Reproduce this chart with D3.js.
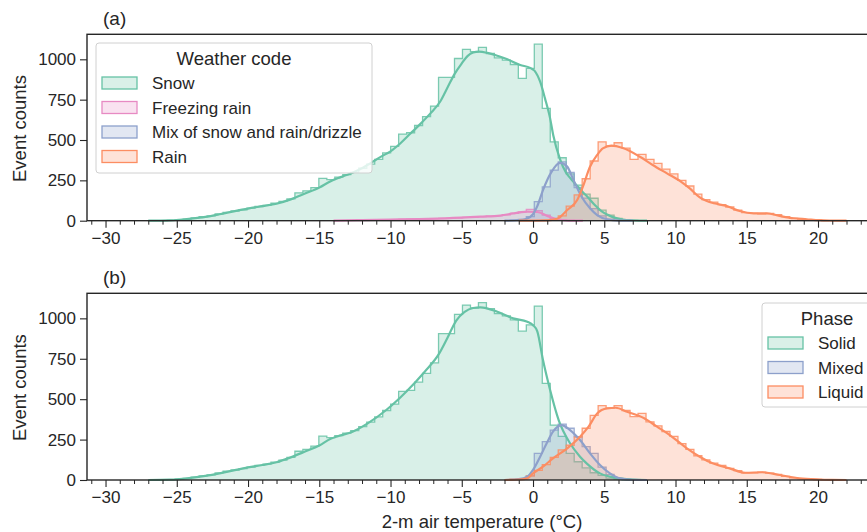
<!DOCTYPE html>
<html>
<head>
<meta charset="utf-8">
<script src="https://cdn.jsdelivr.net/npm/d3@7"></script>
<style>
    body { margin: 0; background: #fff; }
    svg text { font-family: "Liberation Sans", Arial, sans-serif; fill: #262626; }
</style>
</head>
<body>
<svg id="chart" width="867" height="532"></svg>
<script>
/* ======================== DATA ========================= */
/* ======================================================= */

// shared histogram bins (degC); a series starts at binOrigin + startBin * binWidth
const binWidth  = 0.56;
const binOrigin = 0.09;

const xTicks = [-30, -25, -20, -15, -10, -5, 0, 5, 10, 15, 20];
const yTicks = [0, 250, 500, 750, 1000];

// ---- panel (a): weather code
const snowStartA = -47;
const snowCountsA = [1, 2, 5, 10, 17, 25, 30, 42, 52, 60, 68, 78, 88, 95, 108, 120, 135, 173, 185, 205,
                     262, 255, 270, 285, 300, 325, 350, 380, 420, 460, 537, 545, 590, 645, 710, 888, 888,
                     1005, 1061, 1047, 1074, 1036, 1009, 995, 968, 882, 944, 1094, 696, 489, 390, 290, 220,
                     165, 139, 65, 35, 15, 6, 2];
const freezingStartA = -22;
const freezingCountsA = [3, 4, 5, 6, 7, 8, 9, 10, 12, 13, 15, 16, 18, 20, 22, 25, 28, 32, 37, 45, 55, 70,
                         62, 35, 15, 5, 2];
const mixStartA = -3;
const mixCountsA = [2, 8, 25, 118, 210, 314, 365, 300, 205, 140, 75, 30, 10, 3];
const rainStartA = 1;
const rainCountsA = [2, 8, 30, 90, 160, 260, 370, 489, 462, 483, 450, 380, 411, 380, 355, 320, 290, 250,
                     215, 165, 130, 115, 100, 85, 65, 50, 45, 42, 45, 38, 25, 15, 10, 6, 3, 1];

const snowKdeA = [[-27, 0], [-25.5, 2], [-24.8, 6], [-24, 13], [-23, 24], [-22, 40], [-21, 58], [-20, 75],
                  [-19, 90], [-18, 105], [-17, 132], [-16, 168], [-15, 205], [-14.2, 245], [-13.5, 270],
                  [-12.8, 293], [-12, 325], [-11.4, 357], [-10.6, 400], [-10, 430], [-9.3, 480], [-8.6, 540],
                  [-7.9, 600], [-7.2, 665], [-6.5, 740], [-6, 825], [-5.5, 910], [-5, 975], [-4.6, 1020],
                  [-4.2, 1042], [-3.8, 1048], [-3.2, 1040], [-2.5, 1022], [-1.8, 1000], [-0.9, 965],
                  [-0.2, 947], [0.1, 930], [0.5, 861], [0.84, 758], [1.2, 634], [1.42, 530], [1.9, 380],
                  [2.3, 300], [2.6, 265], [3, 225], [3.4, 185], [3.8, 150], [4.3, 100], [4.8, 60],
                  [5.2, 38], [5.6, 22], [6.2, 9], [7, 2], [8, 0]];
const freezingKdeA = [[-14, 0], [-12, 4], [-10, 7], [-8, 10], [-6.1, 15], [-3.7, 25], [-2.3, 32], [-1.4, 45],
                      [-0.9, 52], [-0.4, 56], [0.3, 54], [1, 30], [1.7, 8], [2.5, 1], [3.5, 0]];
const mixKdeA = [[-2, 0], [-1, 3], [-0.5, 10], [0, 40], [0.3, 90], [0.7, 190], [1.3, 303], [1.9, 358],
                 [2.4, 335], [2.8, 260], [3.4, 150], [4, 77], [4.5, 35], [5.2, 9], [6, 1], [7, 0]];
const rainKdeA = [[-1, 0], [1, 2], [1.7, 12], [2.4, 66], [3.1, 128], [3.5, 211], [4, 334], [4.5, 407],
                  [4.9, 448], [5.5, 465], [6.3, 450], [7.5, 396], [8.4, 345], [9.4, 293], [10.4, 241],
                  [11, 200], [11.7, 145], [12.2, 122], [12.7, 108], [13.6, 91], [14.5, 60], [15.5, 46],
                  [16.4, 46], [17.3, 30], [18.3, 15], [19.2, 9], [20.1, 3], [21, 1], [22, 0]];

// ---- panel (b): phase
const solidStartB = -47;
const solidCountsB = [1, 2, 5, 10, 18, 26, 32, 44, 54, 62, 70, 80, 90, 98, 110, 123, 140, 178, 190, 210,
                      272, 262, 275, 290, 305, 330, 358, 390, 430, 470, 548, 555, 605, 660, 725, 905, 905,
                      1025, 1082, 1065, 1097, 1060, 1030, 1015, 990, 921, 960, 1076, 598, 340, 270, 165,
                      113, 75, 45, 28, 12, 4, 1];
const mixedStartB = -2;
const mixedCountsB = [5, 25, 165, 237, 309, 346, 320, 268, 206, 165, 80, 35, 10, 3];
const liquidStartB = -3;
const liquidCountsB = [3, 8, 25, 60, 95, 140, 186, 215, 265, 320, 400, 460, 445, 460, 430, 392, 412, 360,
                       335, 300, 270, 225, 190, 150, 125, 105, 90, 72, 58, 45, 45, 48, 42, 35, 22, 14, 9,
                       5, 3, 1];

const solidKdeB = [[-27, 0], [-25.5, 2], [-24.8, 6], [-24, 13], [-23, 25], [-22, 41], [-21, 60], [-20, 78],
                   [-19, 93], [-18, 110], [-17, 140], [-16, 176], [-15, 213], [-14.2, 255], [-13.5, 276],
                   [-12.7, 297], [-11.6, 350], [-10.3, 433], [-8.9, 546], [-7.6, 670], [-6.6, 780],
                   [-6, 880], [-5.4, 985], [-4.8, 1040], [-4.2, 1064], [-3.7, 1068], [-2.5, 1041],
                   [-1.4, 1000], [-0.4, 979], [0, 958], [0.3, 920], [0.7, 742], [1.2, 557], [1.8, 371],
                   [2.6, 227], [3.3, 144], [3.8, 100], [4.7, 41], [5.4, 21], [6.2, 8], [7, 2], [8, 0]];
const mixedKdeB = [[-2, 0], [-1, 5], [-0.4, 20], [0, 62], [0.5, 144], [0.96, 227], [1.4, 299], [2, 340],
                   [2.6, 309], [3.3, 247], [4, 165], [4.7, 93], [5.4, 41], [6.1, 10], [7, 1], [8, 0]];
const liquidKdeB = [[-2, 0], [-1, 3], [-0.4, 10], [0, 41], [0.7, 82], [1.4, 134], [2.4, 196], [3.3, 268],
                    [3.9, 330], [4.5, 412], [5.2, 443], [5.8, 447], [6.6, 422], [7.8, 382], [8.7, 330],
                    [9.6, 278], [10.8, 196], [11.7, 144], [12.6, 103], [13.8, 72], [14.9, 45], [16.1, 48],
                    [17.3, 31], [18.7, 10], [20.1, 3], [21, 1], [22, 0]];

const legendA = ["Snow", "Freezing rain", "Mix of snow and rain/drizzle", "Rain"];
const legendB = ["Solid", "Mixed", "Liquid"];

/* ======================================================= */
/* ===================== END OF DATA ===================== */


const green  = "#66c2a5",
      orange = "#fc8d62",
      blue   = "#8da0cb",
      pink   = "#e78ac3";

const axisColor = "#262626";

const svg = d3.select("#chart");

const x = d3.scaleLinear()
            .domain([-31.3, 24.14])
            .range([87, 877]);

const panelA = { top: 34.3, bottom: 220.7 },
      panelB = { top: 293.3, bottom: 480 };


/* =================== HELPER FUNCTIONS ================== */
/* ======================================================= */

function histPoints(start, counts) {
    let pts = [[binOrigin + start * binWidth, 0]];
    counts.forEach((c, i) => pts.push([binOrigin + (start + i) * binWidth, c]));
    pts.push([binOrigin + (start + counts.length) * binWidth, 0]);
    return pts;
}

function drawPanel(g, y, series) {
    let area = d3.area()
                 .curve(d3.curveStepAfter)
                 .x(d => x(d[0]))
                 .y0(y(0))
                 .y1(d => y(d[1]));
    let step = d3.line()
                 .curve(d3.curveStepAfter)
                 .x(d => x(d[0]))
                 .y(d => y(d[1]));
    let kde = d3.line()
                .curve(d3.curveMonotoneX)
                .x(d => x(d[0]))
                .y(d => y(d[1]));

    series.forEach(s => {
        let pts = histPoints(s.start, s.counts);
        g.append("path")
         .attr("d", area(pts))
         .attr("fill", s.color)
         .attr("fill-opacity", 0.25);
        g.append("path")
         .attr("d", step(pts))
         .attr("fill", "none")
         .attr("stroke", s.color)
         .attr("stroke-opacity", 0.85)
         .attr("stroke-width", 1.3);
    });
    series.forEach(s => {
        g.append("path")
         .attr("d", kde(s.kde))
         .attr("fill", "none")
         .attr("stroke", s.color)
         .attr("stroke-width", 2.2)
         .attr("stroke-linejoin", "round");
    });
}

function drawAxes(panel, y, label) {
    let xAxis = d3.axisBottom(x)
                  .tickValues(xTicks)
                  .tickFormat(d => d < 0 ? "\u2212" + Math.abs(d) : d)
                  .tickSizeInner(7)
                  .tickSizeOuter(0)
                  .tickPadding(4);
    let xMinor = d3.axisBottom(x)
                   .tickValues(d3.range(-31, 25).filter(v => v % 5 !== 0))
                   .tickFormat("")
                   .tickSizeInner(4)
                   .tickSizeOuter(0);
    let yAxis = d3.axisLeft(y)
                  .tickValues(yTicks)
                  .tickFormat(d3.format("d"))
                  .tickSizeInner(7)
                  .tickSizeOuter(0)
                  .tickPadding(4);

    let gx = svg.append("g")
                .attr("transform", `translate(0,${panel.bottom})`)
                .call(xAxis);
    svg.append("g")
       .attr("transform", `translate(0,${panel.bottom})`)
       .call(xMinor)
       .call(g => g.select(".domain").remove());
    let gy = svg.append("g")
                .attr("transform", `translate(${x.range()[0]},0)`)
                .call(yAxis);

    [gx, gy].forEach(g => {
        g.selectAll("text").style("font-size", "17px").attr("fill", axisColor);
        g.selectAll("line").attr("stroke", axisColor).attr("stroke-width", 1.1);
        g.select(".domain").remove();
    });
    svg.selectAll(".tick line").attr("stroke", axisColor);

    // frame
    svg.append("rect")
       .attr("x", x.range()[0])
       .attr("y", panel.top)
       .attr("width", x.range()[1] - x.range()[0])
       .attr("height", panel.bottom - panel.top)
       .attr("fill", "none")
       .attr("stroke", axisColor)
       .attr("stroke-width", 1.4);

    svg.append("text")
       .attr("transform", `translate(26,${(panel.top + panel.bottom) / 2 + 1}) rotate(-90)`)
       .attr("text-anchor", "middle")
       .style("font-size", "18.5px")
       .text("Event counts");

    svg.append("text")
       .attr("x", 103)
       .attr("y", panel.top - 9)
       .style("font-size", "19px")
       .text(label);
}

function drawLegend(left, top, width, height, title, names, colors) {
    let g = svg.append("g");
    g.append("rect")
     .attr("x", left)
     .attr("y", top)
     .attr("width", width)
     .attr("height", height)
     .attr("rx", 3)
     .attr("fill", "#fff")
     .attr("fill-opacity", 0.8)
     .attr("stroke", "#d0d0d0")
     .attr("stroke-width", 1);
    g.append("text")
     .attr("x", left + width / 2)
     .attr("y", top + 21.5)
     .attr("text-anchor", "middle")
     .style("font-size", "18.5px")
     .text(title);
    names.forEach((n, i) => {
        let cy = top + 40 + i * 24.5;
        g.append("rect")
         .attr("x", left + 6)
         .attr("y", cy - 6)
         .attr("width", 35)
         .attr("height", 12)
         .attr("fill", colors[i])
         .attr("fill-opacity", 0.25)
         .attr("stroke", colors[i])
         .attr("stroke-width", 1.3);
        g.append("text")
         .attr("x", left + 56)
         .attr("y", cy + 6)
         .style("font-size", "17px")
         .text(n);
    });
}

/* ======================================================= */
/* =============== END OF HELPER FUNCTIONS =============== */


/* ======================== DRAW ========================= */

const yA = d3.scaleLinear().domain([0, 1155]).range([panelA.bottom, panelA.top]);
const yB = d3.scaleLinear().domain([0, 1155]).range([panelB.bottom, panelB.top]);

drawPanel(svg.append("g"), yA, [
    { start: snowStartA,     counts: snowCountsA,     kde: snowKdeA,     color: green },
    { start: freezingStartA, counts: freezingCountsA, kde: freezingKdeA, color: pink },
    { start: mixStartA,      counts: mixCountsA,      kde: mixKdeA,      color: blue },
    { start: rainStartA,     counts: rainCountsA,     kde: rainKdeA,     color: orange }
]);
drawPanel(svg.append("g"), yB, [
    { start: solidStartB,  counts: solidCountsB,  kde: solidKdeB,  color: green },
    { start: mixedStartB,  counts: mixedCountsB,  kde: mixedKdeB,  color: blue },
    { start: liquidStartB, counts: liquidCountsB, kde: liquidKdeB, color: orange }
]);

drawAxes(panelA, yA, "(a)");
drawAxes(panelB, yB, "(b)");

svg.append("text")
   .attr("x", (x.range()[0] + x.range()[1]) / 2)
   .attr("y", 528)
   .attr("text-anchor", "middle")
   .style("font-size", "18.5px")
   .text("2-m air temperature (\u00b0C)");

drawLegend(96, 43, 276, 130, "Weather code", legendA, [green, pink, blue, orange]);
drawLegend(762, 303, 130, 104, "Phase", legendB, [green, blue, orange]);
</script>
</body>
</html>
